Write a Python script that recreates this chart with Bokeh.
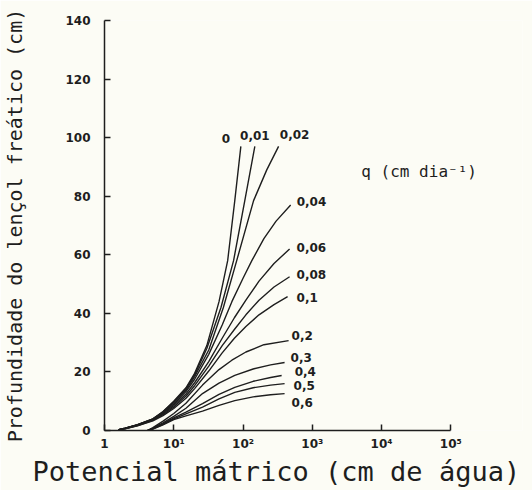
from bokeh.plotting import figure
from bokeh.models import FixedTicker, Label, Title
from bokeh.core.properties import value
from bokeh.embed import file_html
from bokeh.resources import INLINE

# ---- data (h: matric potential in cm, z: water-table depth in cm)
q_labels = ["0", "0,01", "0,02", "0,04", "0,06", "0,08", "0,1", "0,2", "0,3", "0,4", "0,5", "0,6"]

h_q0 = [1.6, 2, 3, 5, 7, 10, 15, 20, 30, 45, 52, 60, 76, 93]
z_q0 = [0.3, 0.8, 2, 4, 6.5, 10, 14.6, 19.5, 29, 44, 51, 58, 78.5, 97]

h_q001 = [1.6, 2, 3, 5, 7, 10, 15, 20, 30, 48, 73, 106, 148]
z_q001 = [0.3, 0.8, 2, 4, 6.4, 9.8, 14.3, 19, 28, 42, 58, 78.5, 97]

h_q002 = [1.6, 2, 3, 5, 7, 10, 15, 20, 32, 52, 81, 142, 220, 326]
z_q002 = [0.3, 0.8, 1.9, 3.9, 6.2, 9.5, 13.8, 18.4, 27.5, 42, 58, 78.5, 89, 97]

h_q004 = [1.6, 2, 3, 5, 7, 10, 15, 20, 32, 50, 69, 100, 134, 200, 300, 487]
z_q004 = [0.3, 0.8, 1.9, 3.8, 6, 9, 13.3, 17.5, 26, 36, 44, 52, 58, 65.5, 71.5, 77]

h_q006 = [1.6, 2, 3, 5, 7, 10, 15, 20, 32, 50, 75, 110, 170, 280, 470]
z_q006 = [0.2, 0.7, 1.8, 3.6, 5.7, 8.5, 12.5, 16.3, 23.5, 31.5, 38.5, 44.5, 51, 57, 62]

h_q008 = [1.6, 2, 3, 5, 7, 10, 15, 20, 32, 50, 75, 110, 170, 280, 470]
z_q008 = [0.2, 0.7, 1.7, 3.5, 5.4, 8, 11.8, 15.3, 22, 29, 34.5, 39.5, 44.5, 49, 52.5]

h_q01 = [1.6, 2, 3, 5, 7, 10, 15, 20, 32, 50, 75, 110, 170, 280, 440]
z_q01 = [0.2, 0.6, 1.6, 3.3, 5.1, 7.5, 11, 14.3, 20.3, 26.5, 31.5, 35.5, 39.5, 43, 45.7]

h_q02 = [4.2, 5, 7, 10, 15, 26, 45, 69, 110, 200, 455]
z_q02 = [0, 1, 3.2, 5.8, 9.3, 15.5, 20.8, 24, 26.8, 29.3, 30.7]

h_q03 = [4.2, 5, 7, 10, 15, 26, 45, 76, 140, 250, 398]
z_q03 = [0, 0.8, 2.6, 4.8, 7.6, 12.6, 16.2, 18.8, 21, 22.4, 23.2]

h_q04 = [4.2, 5, 7, 10, 15, 26, 45, 76, 140, 250, 361]
z_q04 = [0, 0.7, 2.3, 4.3, 6.3, 9.2, 12.3, 14.7, 16.8, 18.1, 18.8]

h_q05 = [4.2, 5, 7, 10, 15, 26, 45, 76, 140, 250, 398]
z_q05 = [0, 0.6, 2.1, 4, 5.7, 8, 10.8, 13, 14.6, 15.5, 16]

h_q06 = [4.2, 5, 7, 10, 15, 26, 45, 76, 140, 250, 398]
z_q06 = [0, 0.5, 1.9, 3.7, 5, 6.6, 8.6, 10.2, 11.5, 12.2, 12.6]

x_ticks = [1, 10, 100, 1000, 10000, 100000]
x_tick_labels = ["1", "10\u00b9", "10\u00b2", "10\u00b3", "10\u2074", "10\u2075"]
y_ticks = [0, 20, 40, 60, 80, 100, 120, 140]

series_h = [h_q0, h_q001, h_q002, h_q004, h_q006, h_q008, h_q01, h_q02, h_q03, h_q04, h_q05, h_q06]
series_z = [z_q0, z_q001, z_q002, z_q004, z_q006, z_q008, z_q01, z_q02, z_q03, z_q04, z_q05, z_q06]

# label placement (screen-pixel offsets from each curve's end) - styling only
label_dx = [-15, 0, 16, 6, 7, 7, 9, 3, 6, 13, 9, 7]
label_dy = [-8, -11, -12, -4, -1, -2, 1, -5, -5, -4, 2, 9]
label_align = ["center", "center", "center", "left", "left", "left", "left", "left", "left", "left", "left", "left"]

BG = "#fcfcf5"
INK = "#1e1e1e"

# frame extends to the right of 10^5 so the q legend text is not clipped;
# the x axis itself is bounded to 1..10^5
p = figure(width=532, height=490, x_axis_type="log", x_range=(1, 10 ** (5 * 420 / 348)),
           y_range=(0, 140),
           output_backend="svg", toolbar_location=None,
           min_border_left=102, min_border_right=10, min_border_top=20, min_border_bottom=60)
p.background_fill_color = BG
p.border_fill_color = BG
p.outline_line_color = None
p.grid.visible = False

for hs, zs in zip(series_h, series_z):
    p.line(hs, zs, line_color=INK, line_width=1.4)

for lab, hs, zs, dx, dy, al in zip(q_labels, series_h, series_z, label_dx, label_dy, label_align):
    p.text(x=[hs[-1]], y=[zs[-1]], text=[lab], x_offset=dx, y_offset=dy,
           text_align=al, text_baseline="middle", text_color=INK,
           text_font=value("DejaVu Sans"), text_font_style="bold", text_font_size="12px")

p.add_layout(Label(x=5100, y=88.5, text="q (cm dia\u207b\u00b9)", text_align="left",
                   text_baseline="middle", text_color=INK, text_font="DejaVu Sans Mono",
                   text_font_size="16px"))

for ax in (p.xaxis[0], p.yaxis[0]):
    ax.axis_line_color = INK
    ax.axis_line_width = 1.5
    ax.major_tick_line_color = INK
    ax.major_tick_line_width = 1.5
    ax.major_tick_in = 6
    ax.major_tick_out = 0
    ax.minor_tick_line_color = None
    ax.major_label_text_color = INK
    ax.major_label_text_font = "DejaVu Sans"
    ax.major_label_text_font_style = "bold"
    ax.major_label_text_font_size = "12px"
    ax.axis_label_text_color = INK
    ax.axis_label_text_font = "DejaVu Sans Mono"
    ax.axis_label_text_font_style = "normal"

p.xaxis.bounds = (1, 100000)
p.xaxis.ticker = FixedTicker(ticks=x_ticks)
p.xaxis.major_label_overrides = {t: s for t, s in zip(x_ticks, x_tick_labels)}
p.xaxis.major_label_standoff = 6

p.add_layout(Title(text="Potencial mátrico (cm de água)", align="left", offset=-72,
                   standoff=0, text_font="DejaVu Sans Mono", text_font_style="normal",
                   text_font_size="27px", text_color=INK), "below")

p.yaxis.ticker = FixedTicker(ticks=y_ticks)
p.yaxis.major_label_standoff = 14
p.yaxis.axis_label = "Profundidade do lençol freático (cm)"
p.yaxis.axis_label_text_font_size = "20px"
p.yaxis.axis_label_standoff = 35

open("out.html", "w").write(file_html(p, INLINE))
